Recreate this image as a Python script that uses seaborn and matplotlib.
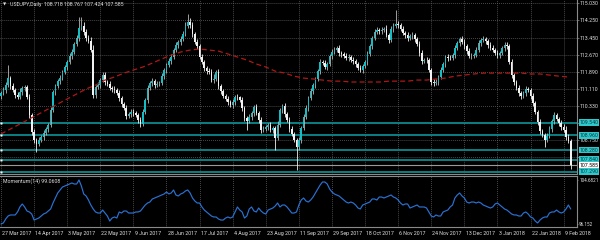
import numpy as np
import pandas as pd
import matplotlib
matplotlib.use("Agg")
import matplotlib.pyplot as plt
import matplotlib.transforms as mtransforms
import seaborn as sns

# ---------------- data ----------------
header_symbol = "USDJPY,Daily"
header_ohlc = ["108.718", "108.767", "107.424", "107.585"]

first_open = 110.75
close = [110.90, 111.04, 111.27, 111.59, 111.22, 111.04, 110.81, 110.72, 110.95, 111.13,
         111.18, 110.72, 109.89, 109.11, 108.74, 108.56, 108.74, 108.88, 109.06, 109.25,
         109.43, 110.12, 110.95, 111.22, 111.45, 111.59, 111.87, 112.10, 112.33, 112.60,
         112.79, 113.16, 113.43, 113.89, 113.98, 113.71, 113.43, 113.29, 112.88, 110.81,
         111.18, 111.27, 111.50, 111.73, 111.41, 111.32, 111.13, 111.10, 111.04, 110.90,
         110.67, 110.40, 110.21, 109.84, 109.94, 110.03, 109.98, 109.89, 109.66, 109.48,
         110.03, 110.58, 111.13, 111.36, 111.45, 111.27, 111.32, 111.36, 111.68, 111.96,
         112.19, 112.37, 112.56, 112.88, 113.11, 113.25, 113.39, 113.62, 113.98, 114.17,
         114.03, 113.62, 113.25, 113.06, 112.56, 112.33, 112.05, 111.91, 111.87, 111.50,
         111.55, 111.87, 111.22, 110.99, 110.76, 110.63, 110.49, 110.35, 110.49, 110.72,
         110.70, 110.58, 110.21, 109.75, 109.61, 109.80, 109.98, 110.26, 109.98, 109.66,
         109.20, 109.25, 109.34, 109.43, 109.20, 109.29, 108.83, 109.43, 110.12, 110.30,
         109.94, 109.66, 109.25, 109.02, 108.74, 108.42, 108.74, 109.29, 109.80, 110.21,
         110.67, 110.99, 111.27, 111.55, 111.91, 112.33, 112.30, 112.10, 112.24, 112.60,
         112.79, 112.88, 112.97, 112.74, 112.70, 112.60, 112.51, 112.56, 112.42, 112.37,
         112.24, 112.05, 111.96, 112.14, 112.33, 112.70, 113.06, 113.43, 113.71, 113.80,
         113.75, 113.80, 113.85, 113.57, 113.34, 113.85, 113.98, 114.08, 114.03, 113.85,
         113.66, 113.57, 113.43, 113.52, 113.57, 113.39, 113.16, 112.74, 112.37, 112.42,
         112.40, 111.96, 111.41, 111.36, 111.41, 111.64, 111.96, 112.24, 112.56, 112.53,
         112.51, 112.65, 112.97, 113.20, 113.39, 113.25, 113.06, 112.83, 112.60, 112.62,
         112.65, 112.88, 113.20, 113.34, 113.39, 113.29, 113.11, 112.97, 112.88, 112.74,
         112.65, 112.74, 112.97, 113.11, 113.06, 112.33, 111.73, 111.41, 111.13, 110.90,
         110.76, 110.90, 111.09, 111.04, 110.76, 110.44, 110.03, 109.57, 109.15, 108.97,
         108.74, 108.92, 109.25, 109.61, 109.89, 109.71, 109.52, 109.34, 109.20, 108.88,
         108.718, 107.585]

# wick lengths in hundredths of a yen
wick_up = [8, 12, 15, 60, 10, 14, 9, 12, 18, 11,
           10, 7, 13, 9, 16, 8, 12, 10, 14, 9,
           11, 15, 9, 12, 8, 14, 10, 11, 9, 13,
           12, 10, 15, 51, 42, 18, 12, 14, 20, 25,
           11, 13, 9, 16, 12, 8, 14, 10, 12, 9,
           15, 11, 10, 13, 9, 12, 16, 10, 8, 14,
           12, 9, 15, 11, 13, 10, 12, 9, 14, 11,
           10, 13, 12, 9, 15, 10, 12, 14, 20, 37,
           18, 12, 10, 14, 9, 13, 11, 10, 15, 12,
           22, 9, 13, 10, 12, 8, 14, 11, 16, 10,
           12, 9, 13, 11, 10, 15, 12, 9, 14, 10,
           12, 13, 9, 11, 15, 10, 12, 18, 11, 9,
           13, 10, 12, 14, 9, 11, 15, 10, 12, 13,
           9, 14, 11, 10, 12, 16, 9, 13, 11, 10,
           14, 12, 9, 13, 11, 10, 15, 12, 9, 14,
           11, 10, 13, 12, 9, 15, 11, 10, 14, 12,
           9, 13, 11, 20, 10, 12, 14, 64, 15, 11,
           13, 10, 12, 9, 14, 11, 10, 13, 12, 9,
           15, 11, 10, 14, 12, 9, 13, 11, 10, 15,
           12, 9, 14, 11, 10, 13, 12, 9, 15, 11,
           10, 14, 12, 9, 13, 11, 10, 15, 12, 9,
           14, 11, 10, 13, 12, 9, 15, 11, 10, 14,
           12, 9, 13, 11, 10, 15, 12, 9, 14, 11,
           10, 13, 12, 9, 15, 11, 10, 14, 12, 20,
           12, 5]
wick_dn = [10, 9, 13, 11, 12, 10, 14, 9, 11, 12,
           13, 10, 12, 15, 14, 37, 11, 10, 12, 9,
           14, 11, 10, 13, 9, 12, 11, 10, 14, 9,
           12, 10, 11, 13, 9, 12, 14, 10, 11, 15,
           13, 9, 12, 10, 14, 11, 9, 13, 12, 10,
           11, 14, 9, 12, 10, 13, 11, 9, 14, 12,
           10, 11, 13, 9, 12, 14, 10, 11, 9, 13,
           12, 10, 14, 11, 9, 12, 13, 10, 11, 9,
           14, 12, 10, 13, 11, 9, 12, 14, 10, 11,
           13, 9, 15, 12, 10, 11, 14, 9, 12, 13,
           10, 11, 12, 14, 41, 10, 13, 11, 9, 12,
           14, 10, 11, 13, 9, 12, 55, 10, 11, 14,
           12, 9, 13, 11, 10, 106, 14, 12, 9, 11,
           13, 10, 12, 14, 9, 11, 13, 10, 12, 9,
           14, 11, 10, 13, 12, 9, 11, 14, 10, 12,
           13, 9, 11, 12, 10, 14, 9, 13, 11, 10,
           12, 14, 9, 11, 13, 10, 12, 9, 14, 11,
           10, 13, 12, 9, 11, 14, 10, 12, 13, 9,
           11, 10, 14, 12, 9, 13, 11, 10, 12, 14,
           9, 11, 13, 10, 12, 9, 14, 11, 10, 13,
           12, 9, 11, 14, 10, 12, 13, 9, 11, 10,
           14, 12, 9, 13, 11, 10, 12, 14, 9, 11,
           13, 10, 12, 9, 14, 11, 10, 13, 12, 9,
           31, 11, 10, 12, 14, 9, 11, 13, 10, 12,
           11, 16]

# moving average, one reading every 4 bars
ma_values = [109.02, 109.25, 109.48, 109.71, 109.94, 110.17, 110.40, 110.63, 110.86, 111.09,
             111.27, 111.50, 111.64, 111.82, 111.96, 112.10, 112.28, 112.47, 112.65, 112.79,
             112.88, 112.93, 112.88, 112.83, 112.70, 112.56, 112.42, 112.24, 112.10, 111.91,
             111.82, 111.68, 111.59, 111.55, 111.50, 111.45, 111.45, 111.41, 111.41, 111.41,
             111.41, 111.45, 111.45, 111.45, 111.50, 111.50, 111.55, 111.59, 111.68, 111.73,
             111.78, 111.82, 111.82, 111.82, 111.82, 111.82, 111.78, 111.78, 111.73, 111.68,
             111.64]
ma_bars = list(range(0, 241, 4))

momentum = [96.15, 96.35, 97.12, 97.70, 97.90, 97.90, 97.90, 98.48, 99.45, 100.03,
            99.45, 98.67, 98.48, 98.09, 96.92, 97.12, 97.31, 97.70, 98.09, 98.28,
            98.67, 99.06, 100.22, 101.19, 102.16, 102.74, 103.32, 103.52, 103.71, 103.90,
            104.10, 103.90, 103.90, 104.68, 103.52, 101.97, 101.58, 100.80, 99.83, 99.06,
            98.48, 98.28, 98.28, 98.86, 98.28, 97.70, 96.73, 97.31, 97.51, 97.31,
            98.48, 98.28, 98.67, 98.67, 98.28, 98.28, 98.28, 98.48, 98.48, 98.67,
            99.25, 99.83, 100.22, 100.41, 100.99, 101.19, 101.38, 101.58, 101.77, 101.97,
            102.36, 101.97, 102.16, 102.74, 101.77, 101.58, 101.97, 102.16, 102.55, 102.74,
            102.16, 101.19, 100.61, 100.22, 100.22, 99.45, 98.86, 98.48, 98.09, 97.70,
            97.51, 97.51, 97.12, 96.92, 96.92, 97.31, 97.51, 97.31, 97.51, 98.48,
            99.45, 98.86, 98.48, 97.31, 97.70, 99.06, 99.45, 98.67, 98.48, 99.25,
            98.67, 98.28, 98.09, 98.86, 99.06, 99.25, 99.64, 100.22, 99.45, 99.83,
            99.83, 99.45, 98.86, 98.28, 98.28, 98.48, 99.83, 100.80, 101.19, 100.61,
            100.41, 100.80, 101.38, 102.16, 102.94, 103.71, 104.29, 104.29, 103.90, 102.94,
            102.36, 101.97, 101.77, 101.58, 101.19, 100.80, 100.41, 100.22, 100.41, 100.22,
            99.83, 99.25, 99.06, 99.83, 100.03, 100.22, 100.41, 101.00, 101.00, 100.80,
            101.38, 101.38, 101.19, 101.38, 101.58, 101.77, 101.38, 101.19, 100.80, 100.22,
            99.83, 100.03, 100.03, 99.25, 99.45, 99.64, 99.83, 99.45, 99.45, 99.45,
            99.25, 98.48, 97.70, 97.51, 97.90, 97.70, 97.70, 98.48, 98.67, 98.86,
            99.45, 99.83, 101.19, 101.77, 102.16, 101.58, 101.19, 100.41, 100.22, 100.41,
            100.41, 100.22, 100.41, 100.22, 99.83, 99.64, 99.45, 99.25, 99.45, 100.03,
            100.22, 99.83, 99.45, 99.06, 98.86, 98.48, 98.09, 97.90, 97.90, 97.70,
            97.70, 98.28, 98.48, 98.09, 97.51, 97.31, 96.73, 96.35, 96.92, 97.31,
            97.51, 97.51, 98.28, 98.48, 98.48, 98.86, 98.48, 98.28, 98.48, 99.06,
            99.83, 99.06]
momentum_title = "Momentum(14) 99.0608"
momentum_axis_labels = ["104.6821", "96.152"]
momentum_axis_values = [104.6821, 96.152]

level_prices = [109.540, 108.960, 108.280, 107.840, 107.290]
level_labels = ["109.540", "108.960", "108.280", "107.840", "107.290"]
current_price = 107.585
current_label = "107.585"

grid_prices = [115.030, 114.250, 113.450, 112.670, 111.890, 111.110, 110.330, 109.540, 108.750, 107.970]
grid_labels = ["115.030", "114.250", "113.450", "112.670", "111.890", "111.110", "110.330", "", "108.750", ""]

date_labels = ["27 Mar 2017", "14 Apr 2017", "3 May 2017", "22 May 2017", "9 Jun 2017",
               "28 Jun 2017", "17 Jul 2017", "4 Aug 2017", "23 Aug 2017", "11 Sep 2017",
               "29 Sep 2017", "18 Oct 2017", "6 Nov 2017", "24 Nov 2017", "13 Dec 2017",
               "3 Jan 2018", "22 Jan 2018", "9 Feb 2018"]
date_bars = [0, 14, 28, 42, 56, 70, 84, 98, 112, 126, 140, 154, 168, 182, 196, 210, 224, 238]

# ---------------- style ----------------
sns.set_theme(style="dark", rc={"axes.facecolor": "black", "figure.facecolor": "black",
                                "savefig.facecolor": "black"})
FONT = ["Liberation Sans Narrow", "Roboto", "DejaVu Sans"]
plt.rcParams["font.family"] = FONT
TXT = "#e0e0e0"
GRID = "#707070"
FRAME = "#8a8a8a"
BULL = "#14bcc4"
BEAR = "#f2f2f2"
WICK = "#b8b8b8"
LEVEL = "#0b8084"
LABELBG = "#2fc9cd"
FS = 3.75

W, H = 600, 240
fig = plt.figure(figsize=(6, 2.4), dpi=100)

plot_w = 577
main_bottom_px = 173.5
mom_top_px, mom_bottom_px = 175.7, 227.0
ax = fig.add_axes([0, 1 - main_bottom_px / H, plot_w / W, main_bottom_px / H])
axm = fig.add_axes([0, 1 - mom_bottom_px / H, plot_w / W, (mom_bottom_px - mom_top_px) / H])

n = len(close)
idx = np.arange(n)
c = np.array(close)
o = np.r_[first_open, c[:-1]]
hi = np.maximum(o, c) + np.array(wick_up) / 100.0
lo = np.minimum(o, c) - np.array(wick_dn) / 100.0

xlim = (-0.42, 243.65)
for a in (ax, axm):
    a.set_facecolor("black")
    a.set_xlim(*xlim)
ax.set_ylim(107.203, 115.182)
axm.set_ylim(95.57, 105.51)

# grid
for a in (ax, axm):
    a.set_xticks(date_bars)
    a.grid(False)
    for b in date_bars:
        a.axvline(b, color=GRID, lw=0.55, ls=(0, (1, 1.6)), zorder=0)
for p in grid_prices:
    ax.axhline(p, color=GRID, lw=0.55, ls=(0, (1, 1.6)), zorder=0)

# horizontal levels
for p in level_prices:
    ax.axhline(p, color=LEVEL, lw=1.4, zorder=1)
    ax.plot([0.0], [p], marker="s", ms=1.6, color="white", mec="none", zorder=5, clip_on=False)
ax.axhline(current_price, color="#9a9a9a", lw=0.8, zorder=1)

# candles
up = c >= o
wick_cols = np.where(up, WICK, BEAR)
ax.vlines(idx, lo, hi, colors=wick_cols, lw=0.6, zorder=2)
body_h = np.maximum(np.abs(c - o), 0.025)
ax.bar(idx, body_h, bottom=np.minimum(o, c), width=0.68,
       color=np.where(up, BULL, BEAR), lw=0, zorder=3)

# moving average
ma_df = pd.DataFrame({"bar": ma_bars, "ma": ma_values})
sns.lineplot(data=ma_df, x="bar", y="ma", ax=ax, color="#b01818", lw=0.9,
             linestyle=(0, (4, 2.5)), zorder=4)

# momentum
mom_df = pd.DataFrame({"bar": idx, "mom": momentum})
sns.lineplot(data=mom_df, x="bar", y="mom", ax=axm, color="#2a72d4", lw=0.85)

# axes cosmetics
for a in (ax, axm):
    a.set_xlabel("")
    a.set_ylabel("")
    for s in a.spines.values():
        s.set_color(FRAME)
        s.set_linewidth(0.8)
    a.spines["left"].set_visible(False)
ax.spines["top"].set_visible(False)

ax.yaxis.tick_right()
ax.set_yticks(grid_prices)
ax.set_yticklabels(grid_labels, fontsize=FS, color=TXT)
ax.tick_params(axis="y", length=1.2, width=0.5, color=FRAME, pad=0.8)
ax.tick_params(axis="x", length=0, labelbottom=False)

axm.yaxis.tick_right()
axm.set_yticks(momentum_axis_values)
axm.set_yticklabels(momentum_axis_labels, fontsize=3.35, color=TXT)
axm.tick_params(axis="y", length=1.0, width=0.5, color=FRAME, pad=0.6)
axm.set_xticklabels(date_labels, fontsize=FS, color=TXT, ha="left")
axm.tick_params(axis="x", length=2.2, width=0.5, color=FRAME, pad=0.8)
offset = mtransforms.ScaledTranslation(1.2 / 100, 0, fig.dpi_scale_trans)
for lab in axm.get_xticklabels():
    lab.set_transform(lab.get_transform() + offset)

# right-side level labels
ytr = ax.get_yaxis_transform()
for p, t in zip(level_prices, level_labels):
    ax.text(1.004, p, t, transform=ytr, fontsize=FS, color="#063c3e", va="center", ha="left",
            bbox=dict(boxstyle="square,pad=0.15", fc=LABELBG, ec="none"), clip_on=False, zorder=6)
ax.text(1.004, current_price, current_label, transform=ytr, fontsize=FS, color="black",
        va="center", ha="left", bbox=dict(boxstyle="square,pad=0.15", fc="white", ec="none"),
        clip_on=False, zorder=7)

# header texts
ax.text(0.005, 0.972, "\u25bc", transform=ax.transAxes, fontsize=3.0, color=TXT,
        va="center", ha="left", family=["DejaVu Sans"])
ax.text(0.017, 0.972, header_symbol + "  " + " ".join(header_ohlc), transform=ax.transAxes,
        fontsize=FS, color=TXT, va="center", ha="left")
axm.text(0.006, 0.9, momentum_title, transform=axm.transAxes, fontsize=FS, color=TXT,
         va="center", ha="left")

fig.savefig("out.png", dpi=100, facecolor="black")
